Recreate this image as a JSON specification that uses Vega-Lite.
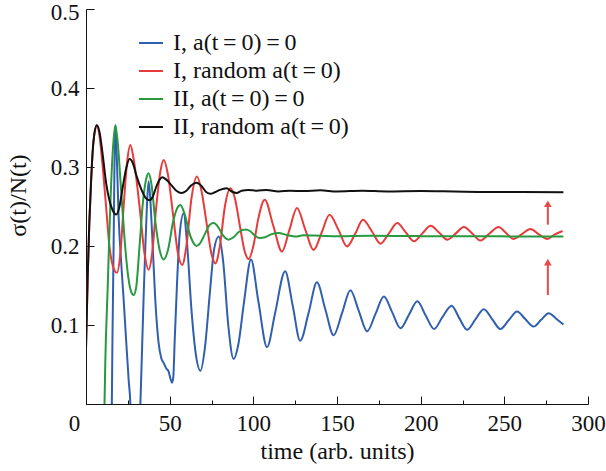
{
  "$schema": "https://vega.github.io/schema/vega-lite/v6.json",
  "width": 502,
  "height": 395,
  "autosize": {"type": "none"},
  "padding": {"left": 86, "top": 9, "right": 18, "bottom": 67},
  "background": "white",
  "config": {
    "view": {"stroke": null}
  },
  "datasets": {
    "curves": [
      {"s": "I, a(t\u2009=\u20090)\u2009=\u20090", "t": 15.3, "v": -0.03},
      {"s": "I, a(t\u2009=\u20090)\u2009=\u20090", "t": 15.8, "v": 0.08},
      {"s": "I, a(t\u2009=\u20090)\u2009=\u20090", "t": 16.5, "v": 0.2},
      {"s": "I, a(t\u2009=\u20090)\u2009=\u20090", "t": 17.0, "v": 0.3},
      {"s": "I, a(t\u2009=\u20090)\u2009=\u20090", "t": 17.6, "v": 0.353},
      {"s": "I, a(t\u2009=\u20090)\u2009=\u20090", "t": 18.3, "v": 0.32},
      {"s": "I, a(t\u2009=\u20090)\u2009=\u20090", "t": 19.5, "v": 0.237},
      {"s": "I, a(t\u2009=\u20090)\u2009=\u20090", "t": 21.0, "v": 0.18},
      {"s": "I, a(t\u2009=\u20090)\u2009=\u20090", "t": 22.5, "v": 0.132},
      {"s": "I, a(t\u2009=\u20090)\u2009=\u20090", "t": 24.0, "v": 0.08},
      {"s": "I, a(t\u2009=\u20090)\u2009=\u20090", "t": 25.5, "v": 0.03},
      {"s": "I, a(t\u2009=\u20090)\u2009=\u20090", "t": 26.5, "v": 0.0},
      {"s": "I, a(t\u2009=\u20090)\u2009=\u20090", "t": 27.0, "v": -0.05},
      {"s": "I, a(t\u2009=\u20090)\u2009=\u20090", "t": 31.8, "v": -0.05},
      {"s": "I, a(t\u2009=\u20090)\u2009=\u20090", "t": 32.5, "v": 0.0},
      {"s": "I, a(t\u2009=\u20090)\u2009=\u20090", "t": 33.5, "v": 0.069},
      {"s": "I, a(t\u2009=\u20090)\u2009=\u20090", "t": 34.5, "v": 0.14},
      {"s": "I, a(t\u2009=\u20090)\u2009=\u20090", "t": 35.4, "v": 0.195},
      {"s": "I, a(t\u2009=\u20090)\u2009=\u20090", "t": 36.4, "v": 0.25},
      {"s": "I, a(t\u2009=\u20090)\u2009=\u20090", "t": 37.4, "v": 0.282},
      {"s": "I, a(t\u2009=\u20090)\u2009=\u20090", "t": 38.4, "v": 0.26},
      {"s": "I, a(t\u2009=\u20090)\u2009=\u20090", "t": 39.5, "v": 0.216},
      {"s": "I, a(t\u2009=\u20090)\u2009=\u20090", "t": 41.4, "v": 0.132},
      {"s": "I, a(t\u2009=\u20090)\u2009=\u20090", "t": 43.4, "v": 0.077},
      {"s": "I, a(t\u2009=\u20090)\u2009=\u20090", "t": 45.0, "v": 0.058},
      {"s": "I, a(t\u2009=\u20090)\u2009=\u20090", "t": 46.4, "v": 0.052},
      {"s": "I, a(t\u2009=\u20090)\u2009=\u20090", "t": 48.0, "v": 0.045},
      {"s": "I, a(t\u2009=\u20090)\u2009=\u20090", "t": 49.4, "v": 0.041},
      {"s": "I, a(t\u2009=\u20090)\u2009=\u20090", "t": 50.5, "v": 0.032},
      {"s": "I, a(t\u2009=\u20090)\u2009=\u20090", "t": 51.4, "v": 0.027},
      {"s": "I, a(t\u2009=\u20090)\u2009=\u20090", "t": 52.2, "v": 0.035},
      {"s": "I, a(t\u2009=\u20090)\u2009=\u20090", "t": 53.0, "v": 0.08},
      {"s": "I, a(t\u2009=\u20090)\u2009=\u20090", "t": 54.4, "v": 0.153},
      {"s": "I, a(t\u2009=\u20090)\u2009=\u20090", "t": 56.0, "v": 0.215},
      {"s": "I, a(t\u2009=\u20090)\u2009=\u20090", "t": 58.3, "v": 0.241},
      {"s": "I, a(t\u2009=\u20090)\u2009=\u20090", "t": 60.5, "v": 0.2},
      {"s": "I, a(t\u2009=\u20090)\u2009=\u20090", "t": 63.0, "v": 0.12},
      {"s": "I, a(t\u2009=\u20090)\u2009=\u20090", "t": 65.5, "v": 0.065},
      {"s": "I, a(t\u2009=\u20090)\u2009=\u20090", "t": 68.4, "v": 0.042},
      {"s": "I, a(t\u2009=\u20090)\u2009=\u20090", "t": 71.0, "v": 0.07},
      {"s": "I, a(t\u2009=\u20090)\u2009=\u20090", "t": 74.0, "v": 0.14},
      {"s": "I, a(t\u2009=\u20090)\u2009=\u20090", "t": 76.5, "v": 0.195},
      {"s": "I, a(t\u2009=\u20090)\u2009=\u20090", "t": 79.3, "v": 0.212},
      {"s": "I, a(t\u2009=\u20090)\u2009=\u20090", "t": 82.0, "v": 0.18},
      {"s": "I, a(t\u2009=\u20090)\u2009=\u20090", "t": 85.0, "v": 0.1},
      {"s": "I, a(t\u2009=\u20090)\u2009=\u20090", "t": 88.2, "v": 0.057},
      {"s": "I, a(t\u2009=\u20090)\u2009=\u20090", "t": 91.0, "v": 0.075},
      {"s": "I, a(t\u2009=\u20090)\u2009=\u20090", "t": 94.5, "v": 0.13},
      {"s": "I, a(t\u2009=\u20090)\u2009=\u20090", "t": 98.6, "v": 0.183},
      {"s": "I, a(t\u2009=\u20090)\u2009=\u20090", "t": 103.0, "v": 0.13},
      {"s": "I, a(t\u2009=\u20090)\u2009=\u20090", "t": 108.2, "v": 0.072},
      {"s": "I, a(t\u2009=\u20090)\u2009=\u20090", "t": 113.0, "v": 0.115},
      {"s": "I, a(t\u2009=\u20090)\u2009=\u20090", "t": 119.0, "v": 0.168},
      {"s": "I, a(t\u2009=\u20090)\u2009=\u20090", "t": 123.5, "v": 0.125},
      {"s": "I, a(t\u2009=\u20090)\u2009=\u20090", "t": 128.0, "v": 0.08},
      {"s": "I, a(t\u2009=\u20090)\u2009=\u20090", "t": 133.0, "v": 0.115},
      {"s": "I, a(t\u2009=\u20090)\u2009=\u20090", "t": 138.0, "v": 0.154},
      {"s": "I, a(t\u2009=\u20090)\u2009=\u20090", "t": 143.0, "v": 0.12},
      {"s": "I, a(t\u2009=\u20090)\u2009=\u20090", "t": 148.0, "v": 0.087},
      {"s": "I, a(t\u2009=\u20090)\u2009=\u20090", "t": 153.0, "v": 0.115},
      {"s": "I, a(t\u2009=\u20090)\u2009=\u20090", "t": 158.0, "v": 0.144},
      {"s": "I, a(t\u2009=\u20090)\u2009=\u20090", "t": 163.0, "v": 0.118},
      {"s": "I, a(t\u2009=\u20090)\u2009=\u20090", "t": 168.0, "v": 0.092},
      {"s": "I, a(t\u2009=\u20090)\u2009=\u20090", "t": 173.0, "v": 0.114},
      {"s": "I, a(t\u2009=\u20090)\u2009=\u20090", "t": 178.0, "v": 0.136},
      {"s": "I, a(t\u2009=\u20090)\u2009=\u20090", "t": 183.0, "v": 0.116},
      {"s": "I, a(t\u2009=\u20090)\u2009=\u20090", "t": 188.0, "v": 0.096},
      {"s": "I, a(t\u2009=\u20090)\u2009=\u20090", "t": 193.0, "v": 0.113},
      {"s": "I, a(t\u2009=\u20090)\u2009=\u20090", "t": 198.0, "v": 0.13},
      {"s": "I, a(t\u2009=\u20090)\u2009=\u20090", "t": 203.0, "v": 0.112},
      {"s": "I, a(t\u2009=\u20090)\u2009=\u20090", "t": 208.0, "v": 0.095},
      {"s": "I, a(t\u2009=\u20090)\u2009=\u20090", "t": 213.0, "v": 0.11},
      {"s": "I, a(t\u2009=\u20090)\u2009=\u20090", "t": 218.5, "v": 0.1245},
      {"s": "I, a(t\u2009=\u20090)\u2009=\u20090", "t": 223.0, "v": 0.109},
      {"s": "I, a(t\u2009=\u20090)\u2009=\u20090", "t": 227.7, "v": 0.094},
      {"s": "I, a(t\u2009=\u20090)\u2009=\u20090", "t": 232.7, "v": 0.107},
      {"s": "I, a(t\u2009=\u20090)\u2009=\u20090", "t": 237.7, "v": 0.12},
      {"s": "I, a(t\u2009=\u20090)\u2009=\u20090", "t": 242.7, "v": 0.1075},
      {"s": "I, a(t\u2009=\u20090)\u2009=\u20090", "t": 247.6, "v": 0.095},
      {"s": "I, a(t\u2009=\u20090)\u2009=\u20090", "t": 252.6, "v": 0.106},
      {"s": "I, a(t\u2009=\u20090)\u2009=\u20090", "t": 257.6, "v": 0.117},
      {"s": "I, a(t\u2009=\u20090)\u2009=\u20090", "t": 262.5, "v": 0.1075},
      {"s": "I, a(t\u2009=\u20090)\u2009=\u20090", "t": 267.5, "v": 0.098},
      {"s": "I, a(t\u2009=\u20090)\u2009=\u20090", "t": 272.0, "v": 0.1065},
      {"s": "I, a(t\u2009=\u20090)\u2009=\u20090", "t": 276.5, "v": 0.115},
      {"s": "I, a(t\u2009=\u20090)\u2009=\u20090", "t": 281.0, "v": 0.108},
      {"s": "I, a(t\u2009=\u20090)\u2009=\u20090", "t": 285.3, "v": 0.1005},

      {"s": "I, random a(t\u2009=\u20090)", "t": 0, "v": 0.07},
      {"s": "I, random a(t\u2009=\u20090)", "t": 1, "v": 0.16},
      {"s": "I, random a(t\u2009=\u20090)", "t": 2, "v": 0.23},
      {"s": "I, random a(t\u2009=\u20090)", "t": 3, "v": 0.28},
      {"s": "I, random a(t\u2009=\u20090)", "t": 4, "v": 0.32},
      {"s": "I, random a(t\u2009=\u20090)", "t": 5, "v": 0.342},
      {"s": "I, random a(t\u2009=\u20090)", "t": 6.5, "v": 0.353},
      {"s": "I, random a(t\u2009=\u20090)", "t": 8, "v": 0.34},
      {"s": "I, random a(t\u2009=\u20090)", "t": 10, "v": 0.3},
      {"s": "I, random a(t\u2009=\u20090)", "t": 12, "v": 0.25},
      {"s": "I, random a(t\u2009=\u20090)", "t": 14, "v": 0.2},
      {"s": "I, random a(t\u2009=\u20090)", "t": 16, "v": 0.175},
      {"s": "I, random a(t\u2009=\u20090)", "t": 18.5, "v": 0.166},
      {"s": "I, random a(t\u2009=\u20090)", "t": 20.5, "v": 0.19},
      {"s": "I, random a(t\u2009=\u20090)", "t": 22.5, "v": 0.25},
      {"s": "I, random a(t\u2009=\u20090)", "t": 24.5, "v": 0.305},
      {"s": "I, random a(t\u2009=\u20090)", "t": 26.5, "v": 0.328},
      {"s": "I, random a(t\u2009=\u20090)", "t": 28.5, "v": 0.31},
      {"s": "I, random a(t\u2009=\u20090)", "t": 32, "v": 0.25},
      {"s": "I, random a(t\u2009=\u20090)", "t": 35, "v": 0.19},
      {"s": "I, random a(t\u2009=\u20090)", "t": 37.4, "v": 0.17},
      {"s": "I, random a(t\u2009=\u20090)", "t": 39.5, "v": 0.19},
      {"s": "I, random a(t\u2009=\u20090)", "t": 42, "v": 0.25},
      {"s": "I, random a(t\u2009=\u20090)", "t": 44.5, "v": 0.295},
      {"s": "I, random a(t\u2009=\u20090)", "t": 46.4, "v": 0.309},
      {"s": "I, random a(t\u2009=\u20090)", "t": 49, "v": 0.29},
      {"s": "I, random a(t\u2009=\u20090)", "t": 52, "v": 0.24},
      {"s": "I, random a(t\u2009=\u20090)", "t": 55, "v": 0.19},
      {"s": "I, random a(t\u2009=\u20090)", "t": 57.5, "v": 0.176},
      {"s": "I, random a(t\u2009=\u20090)", "t": 60, "v": 0.2},
      {"s": "I, random a(t\u2009=\u20090)", "t": 63, "v": 0.26},
      {"s": "I, random a(t\u2009=\u20090)", "t": 66.3, "v": 0.288},
      {"s": "I, random a(t\u2009=\u20090)", "t": 69, "v": 0.27},
      {"s": "I, random a(t\u2009=\u20090)", "t": 72, "v": 0.23},
      {"s": "I, random a(t\u2009=\u20090)", "t": 75, "v": 0.19},
      {"s": "I, random a(t\u2009=\u20090)", "t": 77.3, "v": 0.178},
      {"s": "I, random a(t\u2009=\u20090)", "t": 80, "v": 0.2},
      {"s": "I, random a(t\u2009=\u20090)", "t": 83, "v": 0.25},
      {"s": "I, random a(t\u2009=\u20090)", "t": 86.3, "v": 0.273},
      {"s": "I, random a(t\u2009=\u20090)", "t": 89, "v": 0.26},
      {"s": "I, random a(t\u2009=\u20090)", "t": 92, "v": 0.225},
      {"s": "I, random a(t\u2009=\u20090)", "t": 95, "v": 0.192},
      {"s": "I, random a(t\u2009=\u20090)", "t": 97.2, "v": 0.1835},
      {"s": "I, random a(t\u2009=\u20090)", "t": 100, "v": 0.2},
      {"s": "I, random a(t\u2009=\u20090)", "t": 103, "v": 0.235},
      {"s": "I, random a(t\u2009=\u20090)", "t": 106.8, "v": 0.2585},
      {"s": "I, random a(t\u2009=\u20090)", "t": 112, "v": 0.225},
      {"s": "I, random a(t\u2009=\u20090)", "t": 117.1, "v": 0.193},
      {"s": "I, random a(t\u2009=\u20090)", "t": 121.5, "v": 0.22},
      {"s": "I, random a(t\u2009=\u20090)", "t": 126.1, "v": 0.248},
      {"s": "I, random a(t\u2009=\u20090)", "t": 131, "v": 0.221},
      {"s": "I, random a(t\u2009=\u20090)", "t": 136, "v": 0.195},
      {"s": "I, random a(t\u2009=\u20090)", "t": 141, "v": 0.218},
      {"s": "I, random a(t\u2009=\u20090)", "t": 145.5, "v": 0.2396},
      {"s": "I, random a(t\u2009=\u20090)", "t": 151, "v": 0.22},
      {"s": "I, random a(t\u2009=\u20090)", "t": 156, "v": 0.1995},
      {"s": "I, random a(t\u2009=\u20090)", "t": 161, "v": 0.216},
      {"s": "I, random a(t\u2009=\u20090)", "t": 165.5, "v": 0.2333},
      {"s": "I, random a(t\u2009=\u20090)", "t": 171, "v": 0.218},
      {"s": "I, random a(t\u2009=\u20090)", "t": 176, "v": 0.203},
      {"s": "I, random a(t\u2009=\u20090)", "t": 181, "v": 0.216},
      {"s": "I, random a(t\u2009=\u20090)", "t": 186, "v": 0.229},
      {"s": "I, random a(t\u2009=\u20090)", "t": 191, "v": 0.2175},
      {"s": "I, random a(t\u2009=\u20090)", "t": 196, "v": 0.206},
      {"s": "I, random a(t\u2009=\u20090)", "t": 201, "v": 0.216},
      {"s": "I, random a(t\u2009=\u20090)", "t": 206, "v": 0.2257},
      {"s": "I, random a(t\u2009=\u20090)", "t": 211, "v": 0.217},
      {"s": "I, random a(t\u2009=\u20090)", "t": 216, "v": 0.208},
      {"s": "I, random a(t\u2009=\u20090)", "t": 221, "v": 0.216},
      {"s": "I, random a(t\u2009=\u20090)", "t": 225.8, "v": 0.224},
      {"s": "I, random a(t\u2009=\u20090)", "t": 231, "v": 0.2155},
      {"s": "I, random a(t\u2009=\u20090)", "t": 235.7, "v": 0.207},
      {"s": "I, random a(t\u2009=\u20090)", "t": 241, "v": 0.2155},
      {"s": "I, random a(t\u2009=\u20090)", "t": 246.6, "v": 0.224},
      {"s": "I, random a(t\u2009=\u20090)", "t": 251, "v": 0.2165},
      {"s": "I, random a(t\u2009=\u20090)", "t": 255.6, "v": 0.209},
      {"s": "I, random a(t\u2009=\u20090)", "t": 260.5, "v": 0.215},
      {"s": "I, random a(t\u2009=\u20090)", "t": 265.6, "v": 0.2215},
      {"s": "I, random a(t\u2009=\u20090)", "t": 270.5, "v": 0.215},
      {"s": "I, random a(t\u2009=\u20090)", "t": 275.6, "v": 0.209},
      {"s": "I, random a(t\u2009=\u20090)", "t": 280, "v": 0.2145},
      {"s": "I, random a(t\u2009=\u20090)", "t": 284.8, "v": 0.219},

      {"s": "II, a(t\u2009=\u20090)\u2009=\u20090", "t": 10.8, "v": -0.03},
      {"s": "II, a(t\u2009=\u20090)\u2009=\u20090", "t": 11.5, "v": 0.05},
      {"s": "II, a(t\u2009=\u20090)\u2009=\u20090", "t": 13, "v": 0.15},
      {"s": "II, a(t\u2009=\u20090)\u2009=\u20090", "t": 14.5, "v": 0.25},
      {"s": "II, a(t\u2009=\u20090)\u2009=\u20090", "t": 16, "v": 0.32},
      {"s": "II, a(t\u2009=\u20090)\u2009=\u20090", "t": 17.5, "v": 0.353},
      {"s": "II, a(t\u2009=\u20090)\u2009=\u20090", "t": 19, "v": 0.33},
      {"s": "II, a(t\u2009=\u20090)\u2009=\u20090", "t": 21, "v": 0.27},
      {"s": "II, a(t\u2009=\u20090)\u2009=\u20090", "t": 23, "v": 0.21},
      {"s": "II, a(t\u2009=\u20090)\u2009=\u20090", "t": 25, "v": 0.165},
      {"s": "II, a(t\u2009=\u20090)\u2009=\u20090", "t": 27, "v": 0.142},
      {"s": "II, a(t\u2009=\u20090)\u2009=\u20090", "t": 28.5, "v": 0.138},
      {"s": "II, a(t\u2009=\u20090)\u2009=\u20090", "t": 30, "v": 0.148},
      {"s": "II, a(t\u2009=\u20090)\u2009=\u20090", "t": 32, "v": 0.2},
      {"s": "II, a(t\u2009=\u20090)\u2009=\u20090", "t": 34, "v": 0.255},
      {"s": "II, a(t\u2009=\u20090)\u2009=\u20090", "t": 36, "v": 0.285},
      {"s": "II, a(t\u2009=\u20090)\u2009=\u20090", "t": 37.4, "v": 0.292},
      {"s": "II, a(t\u2009=\u20090)\u2009=\u20090", "t": 39, "v": 0.28},
      {"s": "II, a(t\u2009=\u20090)\u2009=\u20090", "t": 41.5, "v": 0.23},
      {"s": "II, a(t\u2009=\u20090)\u2009=\u20090", "t": 44, "v": 0.195},
      {"s": "II, a(t\u2009=\u20090)\u2009=\u20090", "t": 46.4, "v": 0.183},
      {"s": "II, a(t\u2009=\u20090)\u2009=\u20090", "t": 49, "v": 0.195},
      {"s": "II, a(t\u2009=\u20090)\u2009=\u20090", "t": 52, "v": 0.23},
      {"s": "II, a(t\u2009=\u20090)\u2009=\u20090", "t": 54.5, "v": 0.248},
      {"s": "II, a(t\u2009=\u20090)\u2009=\u20090", "t": 56.4, "v": 0.252},
      {"s": "II, a(t\u2009=\u20090)\u2009=\u20090", "t": 59, "v": 0.24},
      {"s": "II, a(t\u2009=\u20090)\u2009=\u20090", "t": 62, "v": 0.215},
      {"s": "II, a(t\u2009=\u20090)\u2009=\u20090", "t": 64.5, "v": 0.203},
      {"s": "II, a(t\u2009=\u20090)\u2009=\u20090", "t": 66, "v": 0.2},
      {"s": "II, a(t\u2009=\u20090)\u2009=\u20090", "t": 68, "v": 0.203},
      {"s": "II, a(t\u2009=\u20090)\u2009=\u20090", "t": 71, "v": 0.215},
      {"s": "II, a(t\u2009=\u20090)\u2009=\u20090", "t": 74, "v": 0.227},
      {"s": "II, a(t\u2009=\u20090)\u2009=\u20090", "t": 76.3, "v": 0.229},
      {"s": "II, a(t\u2009=\u20090)\u2009=\u20090", "t": 79, "v": 0.224},
      {"s": "II, a(t\u2009=\u20090)\u2009=\u20090", "t": 82, "v": 0.213},
      {"s": "II, a(t\u2009=\u20090)\u2009=\u20090", "t": 85.2, "v": 0.208},
      {"s": "II, a(t\u2009=\u20090)\u2009=\u20090", "t": 88, "v": 0.211},
      {"s": "II, a(t\u2009=\u20090)\u2009=\u20090", "t": 91.5, "v": 0.218},
      {"s": "II, a(t\u2009=\u20090)\u2009=\u20090", "t": 95.2, "v": 0.221},
      {"s": "II, a(t\u2009=\u20090)\u2009=\u20090", "t": 98, "v": 0.219},
      {"s": "II, a(t\u2009=\u20090)\u2009=\u20090", "t": 101, "v": 0.213},
      {"s": "II, a(t\u2009=\u20090)\u2009=\u20090", "t": 104, "v": 0.21},
      {"s": "II, a(t\u2009=\u20090)\u2009=\u20090", "t": 107, "v": 0.211},
      {"s": "II, a(t\u2009=\u20090)\u2009=\u20090", "t": 111, "v": 0.215},
      {"s": "II, a(t\u2009=\u20090)\u2009=\u20090", "t": 115, "v": 0.2165},
      {"s": "II, a(t\u2009=\u20090)\u2009=\u20090", "t": 120, "v": 0.214},
      {"s": "II, a(t\u2009=\u20090)\u2009=\u20090", "t": 125, "v": 0.212},
      {"s": "II, a(t\u2009=\u20090)\u2009=\u20090", "t": 130, "v": 0.2135},
      {"s": "II, a(t\u2009=\u20090)\u2009=\u20090", "t": 140, "v": 0.213},
      {"s": "II, a(t\u2009=\u20090)\u2009=\u20090", "t": 150, "v": 0.2125},
      {"s": "II, a(t\u2009=\u20090)\u2009=\u20090", "t": 170, "v": 0.213},
      {"s": "II, a(t\u2009=\u20090)\u2009=\u20090", "t": 200, "v": 0.2125},
      {"s": "II, a(t\u2009=\u20090)\u2009=\u20090", "t": 230, "v": 0.2125},
      {"s": "II, a(t\u2009=\u20090)\u2009=\u20090", "t": 260, "v": 0.212},
      {"s": "II, a(t\u2009=\u20090)\u2009=\u20090", "t": 285.3, "v": 0.212},

      {"s": "II, random a(t\u2009=\u20090)", "t": 0, "v": 0.07},
      {"s": "II, random a(t\u2009=\u20090)", "t": 1, "v": 0.16},
      {"s": "II, random a(t\u2009=\u20090)", "t": 2, "v": 0.23},
      {"s": "II, random a(t\u2009=\u20090)", "t": 3, "v": 0.28},
      {"s": "II, random a(t\u2009=\u20090)", "t": 4, "v": 0.32},
      {"s": "II, random a(t\u2009=\u20090)", "t": 5, "v": 0.342},
      {"s": "II, random a(t\u2009=\u20090)", "t": 6.5, "v": 0.353},
      {"s": "II, random a(t\u2009=\u20090)", "t": 8, "v": 0.345},
      {"s": "II, random a(t\u2009=\u20090)", "t": 10, "v": 0.315},
      {"s": "II, random a(t\u2009=\u20090)", "t": 12, "v": 0.28},
      {"s": "II, random a(t\u2009=\u20090)", "t": 14, "v": 0.258},
      {"s": "II, random a(t\u2009=\u20090)", "t": 16, "v": 0.245},
      {"s": "II, random a(t\u2009=\u20090)", "t": 18.1, "v": 0.24},
      {"s": "II, random a(t\u2009=\u20090)", "t": 20, "v": 0.25},
      {"s": "II, random a(t\u2009=\u20090)", "t": 22, "v": 0.275},
      {"s": "II, random a(t\u2009=\u20090)", "t": 24, "v": 0.298},
      {"s": "II, random a(t\u2009=\u20090)", "t": 26, "v": 0.31},
      {"s": "II, random a(t\u2009=\u20090)", "t": 28, "v": 0.305},
      {"s": "II, random a(t\u2009=\u20090)", "t": 30, "v": 0.29},
      {"s": "II, random a(t\u2009=\u20090)", "t": 33, "v": 0.272},
      {"s": "II, random a(t\u2009=\u20090)", "t": 36, "v": 0.26},
      {"s": "II, random a(t\u2009=\u20090)", "t": 38, "v": 0.258},
      {"s": "II, random a(t\u2009=\u20090)", "t": 40, "v": 0.263},
      {"s": "II, random a(t\u2009=\u20090)", "t": 42, "v": 0.275},
      {"s": "II, random a(t\u2009=\u20090)", "t": 44, "v": 0.284},
      {"s": "II, random a(t\u2009=\u20090)", "t": 45.5, "v": 0.287},
      {"s": "II, random a(t\u2009=\u20090)", "t": 48, "v": 0.284},
      {"s": "II, random a(t\u2009=\u20090)", "t": 51, "v": 0.277},
      {"s": "II, random a(t\u2009=\u20090)", "t": 54, "v": 0.27},
      {"s": "II, random a(t\u2009=\u20090)", "t": 57, "v": 0.267},
      {"s": "II, random a(t\u2009=\u20090)", "t": 60, "v": 0.27},
      {"s": "II, random a(t\u2009=\u20090)", "t": 63, "v": 0.277},
      {"s": "II, random a(t\u2009=\u20090)", "t": 66, "v": 0.28},
      {"s": "II, random a(t\u2009=\u20090)", "t": 69, "v": 0.276},
      {"s": "II, random a(t\u2009=\u20090)", "t": 72, "v": 0.268},
      {"s": "II, random a(t\u2009=\u20090)", "t": 74.4, "v": 0.266},
      {"s": "II, random a(t\u2009=\u20090)", "t": 77, "v": 0.268},
      {"s": "II, random a(t\u2009=\u20090)", "t": 80, "v": 0.271},
      {"s": "II, random a(t\u2009=\u20090)", "t": 84, "v": 0.273},
      {"s": "II, random a(t\u2009=\u20090)", "t": 87, "v": 0.269},
      {"s": "II, random a(t\u2009=\u20090)", "t": 90, "v": 0.267},
      {"s": "II, random a(t\u2009=\u20090)", "t": 93, "v": 0.27},
      {"s": "II, random a(t\u2009=\u20090)", "t": 97, "v": 0.271},
      {"s": "II, random a(t\u2009=\u20090)", "t": 102, "v": 0.27},
      {"s": "II, random a(t\u2009=\u20090)", "t": 108, "v": 0.271},
      {"s": "II, random a(t\u2009=\u20090)", "t": 115, "v": 0.269},
      {"s": "II, random a(t\u2009=\u20090)", "t": 122, "v": 0.27},
      {"s": "II, random a(t\u2009=\u20090)", "t": 130, "v": 0.2695},
      {"s": "II, random a(t\u2009=\u20090)", "t": 140, "v": 0.2705},
      {"s": "II, random a(t\u2009=\u20090)", "t": 150, "v": 0.269},
      {"s": "II, random a(t\u2009=\u20090)", "t": 165, "v": 0.27},
      {"s": "II, random a(t\u2009=\u20090)", "t": 180, "v": 0.269},
      {"s": "II, random a(t\u2009=\u20090)", "t": 200, "v": 0.2695},
      {"s": "II, random a(t\u2009=\u20090)", "t": 220, "v": 0.269},
      {"s": "II, random a(t\u2009=\u20090)", "t": 240, "v": 0.2685},
      {"s": "II, random a(t\u2009=\u20090)", "t": 260, "v": 0.2685},
      {"s": "II, random a(t\u2009=\u20090)", "t": 285.3, "v": 0.268}
    ],
    "arrows": [
      {"t": 276, "v0": 0.138, "v1": 0.178, "tip": 0.1795},
      {"t": 276, "v0": 0.227, "v1": 0.252, "tip": 0.2535}
    ]
  },
  "layer": [
    {
      "data": {"name": "curves"},
      "mark": {"type": "line", "strokeWidth": 2, "clip": true, "interpolate": "monotone"},
      "encoding": {
        "x": {
          "field": "t", "type": "quantitative",
          "scale": {"domain": [0, 300], "nice": false, "zero": false},
          "axis": {
            "title": "time (arb. units)",
            "grid": false,
            "domainColor": "#111",
            "tickColor": "#111",
            "labelFont": "Liberation Serif",
            "labelFontSize": 23,
            "labelColor": "#111",
            "titleFont": "Liberation Serif",
            "titleFontSize": 24,
            "titleFontWeight": "normal",
            "titleColor": "#111",
            "values": [0, 25, 50, 75, 100, 125, 150, 175, 200, 225, 250, 275, 300],
            "labelExpr": "datum.value % 50 == 0 ? datum.label : ''",
            "tickSize": {"condition": {"test": "datum.value % 50 == 0", "value": -8}, "value": -4},
            "labelPadding": 16,
            "labelOffset": {"condition": {"test": "datum.value == 0", "value": -12}, "value": 0},
            "labelFlush": false,
            "titleY": 47,
            "titleBaseline": "middle"
          }
        },
        "y": {
          "field": "v", "type": "quantitative",
          "scale": {"domain": [0, 0.5], "nice": false, "zero": false},
          "axis": {
            "title": "σ(t)/N(t)",
            "grid": false,
            "domainColor": "#111",
            "tickColor": "#111",
            "labelFont": "Liberation Serif",
            "labelFontSize": 23,
            "labelColor": "#111",
            "titleFont": "Liberation Serif",
            "titleFontSize": 24,
            "titleFontWeight": "normal",
            "titleColor": "#111",
            "values": [0, 0.05, 0.1, 0.15, 0.2, 0.25, 0.3, 0.35, 0.4, 0.45, 0.5],
            "labelExpr": "datum.value > 0.01 && abs(datum.value * 10 - round(datum.value * 10)) < 0.001 ? format(datum.value, '.1f') : ''",
            "tickSize": {"condition": {"test": "abs(datum.value * 10 - round(datum.value * 10)) < 0.001", "value": -8}, "value": -4},
            "labelPadding": 15,
            "labelOffset": {"condition": {"test": "datum.value > 0.49", "value": 3}, "value": 0},
            "labelFlush": false,
            "titleX": -68,
            "titleY": 186,
            "titleBaseline": "middle",
            "titleAngle": -90
          }
        },
        "color": {
          "field": "s", "type": "nominal",
          "scale": {
            "domain": ["I, a(t\u2009=\u20090)\u2009=\u20090", "I, random a(t\u2009=\u20090)", "II, a(t\u2009=\u20090)\u2009=\u20090", "II, random a(t\u2009=\u20090)"],
            "range": ["#2f5fae", "#e83a3a", "#27993f", "#111111"]
          },
          "legend": {
            "orient": "none",
            "legendX": 52,
            "legendY": 21,
            "title": null,
            "padding": 0,
            "symbolType": "stroke",
            "symbolSize": 576,
            "symbolStrokeWidth": 2,
            "labelFont": "Liberation Serif",
            "labelFontSize": 24,
            "labelColor": "#111",
            "labelOffset": 9,
            "rowPadding": 3,
            "labelLimit": 400
          }
        }
      }
    },
    {
      "data": {"name": "arrows"},
      "mark": {"type": "rule", "color": "#e84a4a", "strokeWidth": 2},
      "encoding": {
        "x": {"field": "t", "type": "quantitative"},
        "y": {"field": "v0", "type": "quantitative"},
        "y2": {"field": "v1"}
      }
    },
    {
      "data": {"name": "arrows"},
      "mark": {"type": "point", "shape": "triangle-up", "filled": true, "color": "#e84a4a", "size": 60, "opacity": 1},
      "encoding": {
        "x": {"field": "t", "type": "quantitative"},
        "y": {"field": "tip", "type": "quantitative"}
      }
    }
  ]
}
